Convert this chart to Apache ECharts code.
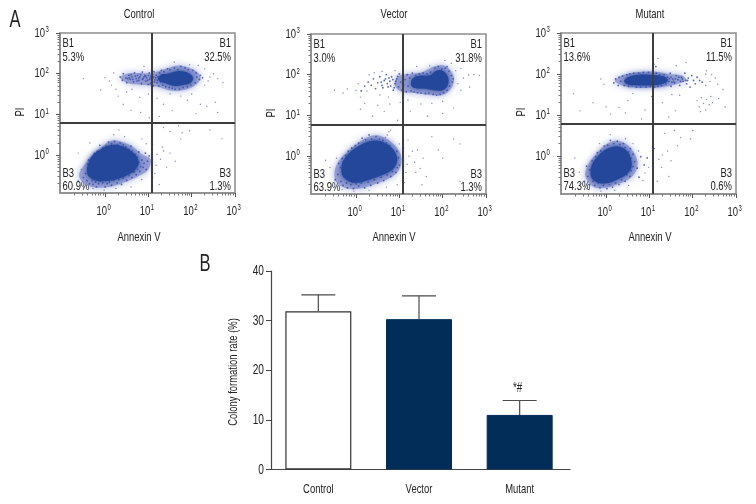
<!DOCTYPE html>
<html><head><meta charset="utf-8">
<style>html,body{margin:0;padding:0;background:#fff}#c{width:756px;height:504px}</style>
<script src="https://cdn.jsdelivr.net/npm/echarts@6/dist/echarts.min.js"></script>
</head><body><div id="c"></div>
<script>
// ---- B: bar chart values
const categories = ['Control','Vector','Mutant'];
const colonyRate = [31.9,30.3,11.0];
const colonyErrorTop = [35.2,35.0,13.9];
const colonyMarks = ['','','*#'];
const colonyTicks = [0,10,20,30,40];
// ---- A: flow cytometry, all positions are log10 of the reading
const logTicks = [0,1,2,3];
const minorLogTicks = [-0.7,-0.52,-0.4,-0.3,-0.22,-0.15,-0.1,-0.05,0.3,0.48,0.6,0.7,0.78,0.85,0.9,0.95,1.3,1.48,1.6,1.7,1.78,1.85,1.9,1.95,2.3,2.48,2.6,2.7,2.78,2.85,2.9,2.95];
const panelNames = ['Control','Vector','Mutant'];
const quadrantTop = ['B1','B1'];
const quadrantBottom = ['B3','B3'];
const controlPct = ['5.3%','32.5%','60.9%','1.3%'];
const vectorPct = ['3.0%','31.8%','63.9%','1.3%'];
const mutantPct = ['13.6%','11.5%','74.3%','0.6%'];
const gateX = [1.08,1.07,1.07];
const gateY = [0.79,0.78,0.79];

// outlines of the saturated part of each cloud
const controlCore = [[[-0.42,-0.38],[-0.38,-0.18],[-0.28,0.0],[-0.1,0.14],[0.1,0.24],[0.32,0.24],[0.55,0.14],[0.72,-0.02],[0.78,-0.2],[0.68,-0.38],[0.5,-0.5],[0.25,-0.6],[0,-0.64],[-0.22,-0.62],[-0.38,-0.52]],
 [[1.22,1.88],[1.3,1.98],[1.45,2.0],[1.6,2.05],[1.78,2.06],[1.95,2.0],[2.03,1.9],[1.98,1.78],[1.8,1.72],[1.6,1.7],[1.42,1.76],[1.28,1.8]]];
const vectorCore = [[[-0.34,-0.32],[-0.3,-0.12],[-0.16,0.08],[0.05,0.24],[0.28,0.36],[0.52,0.38],[0.74,0.28],[0.9,0.1],[0.95,-0.12],[0.85,-0.32],[0.62,-0.46],[0.36,-0.56],[0.1,-0.64],[-0.12,-0.64],[-0.3,-0.5]],
 [[1.28,1.72],[1.3,1.9],[1.5,1.98],[1.7,1.98],[1.85,2.1],[2.0,2.1],[2.12,1.95],[2.12,1.75],[2.0,1.62],[1.8,1.62],[1.55,1.66],[1.4,1.66]]];
const mutantCore = [[[-0.36,-0.4],[-0.32,-0.2],[-0.2,-0.02],[-0.04,0.14],[0.14,0.22],[0.34,0.22],[0.5,0.1],[0.58,-0.1],[0.58,-0.3],[0.44,-0.48],[0.25,-0.58],[0.05,-0.66],[-0.17,-0.66],[-0.32,-0.56]],
 [[0.42,1.82],[0.5,1.92],[0.75,1.98],[1.0,1.98],[1.2,1.96],[1.38,1.92],[1.42,1.82],[1.25,1.74],[1.0,1.72],[0.75,1.72],[0.5,1.74]]];
// outlines of the paler skirt round each cloud
const controlHalo = [[[-0.6,-0.5],[-0.45,-0.2],[-0.25,0.05],[-0.05,0.22],[0.15,0.36],[0.4,0.32],[0.65,0.2],[0.85,0.02],[1.05,-0.1],[1.0,-0.35],[0.8,-0.5],[0.5,-0.65],[0.2,-0.76],[-0.15,-0.8],[-0.45,-0.72]],
 [[0.35,1.9],[0.5,2.0],[0.8,2.02],[1.1,2.02],[1.4,2.12],[1.7,2.2],[2.0,2.12],[2.2,1.95],[2.15,1.78],[1.9,1.62],[1.55,1.58],[1.2,1.68],[0.9,1.72],[0.55,1.76]]];
const vectorHalo = [[[-0.5,-0.4],[-0.4,-0.12],[-0.2,0.1],[0.05,0.32],[0.3,0.48],[0.55,0.5],[0.8,0.36],[1.0,0.12],[1.05,-0.15],[0.95,-0.4],[0.7,-0.58],[0.4,-0.7],[0.05,-0.8],[-0.25,-0.78],[-0.45,-0.65]],
 [[0.9,1.72],[0.95,1.95],[1.2,2.02],[1.5,2.05],[1.8,2.2],[2.05,2.22],[2.25,1.98],[2.22,1.7],[2.0,1.5],[1.7,1.5],[1.35,1.55],[1.05,1.58]]];
const mutantHalo = [[[-0.48,-0.5],[-0.42,-0.22],[-0.25,0.02],[-0.05,0.24],[0.15,0.36],[0.38,0.34],[0.58,0.18],[0.72,-0.1],[0.7,-0.35],[0.55,-0.55],[0.3,-0.68],[0,-0.78],[-0.28,-0.76]],
 [[0.2,1.82],[0.35,1.95],[0.7,2.04],[1.1,2.06],[1.45,2.0],[1.75,1.96],[1.85,1.85],[1.6,1.74],[1.3,1.68],[0.9,1.66],[0.5,1.68]]];

// fringe of each cloud: individually read dots
const controlDense = [[-0.45,-0.45],[-0.5,-0.55],[-0.42,-0.62],[-0.38,-0.3],[-0.33,-0.18],[-0.36,-0.7],[-0.3,-0.62],[-0.28,-0.72],[-0.22,-0.66],[-0.2,-0.78],[-0.15,-0.7],[-0.1,-0.64],[-0.05,-0.68],[0,-0.78],[0.05,-0.7],[0.1,-0.66],[0.15,-0.74],[0.2,-0.62],[0.28,-0.68],[0.32,-0.6],[0.38,-0.72],[0.42,-0.56],[0.5,-0.62],[0.55,-0.5],[0.62,-0.55],[0.66,-0.42],[0.72,-0.48],[0.75,-0.35],[0.8,-0.4],[0.82,-0.28],[0.88,-0.3],[0.78,-0.18],[0.85,-0.12],[0.9,-0.2],[0.75,-0.05],[0.7,0.02],[0.78,0.08],[0.62,0.1],[0.55,0.14],[0.6,0.22],[0.48,0.2],[0.42,0.25],[0.35,0.3],[0.28,0.26],[0.22,0.34],[0.15,0.28],[0.08,0.32],[0.02,0.22],[-0.05,0.18],[-0.12,0.24],[-0.18,0.1],[-0.25,0.04],[-0.3,-0.05],[-0.38,-0.12],[-0.4,-0.22],[0.95,-0.35],[0.98,-0.15],[1.02,-0.02],[0.93,0.05],[0.68,-0.4],
 [0.35,1.92],[0.4,1.84],[0.42,2.0],[0.48,1.9],[0.5,1.78],[0.55,1.96],[0.58,1.86],[0.62,1.92],[0.66,1.8],[0.68,2.02],[0.72,1.88],[0.75,1.96],[0.78,1.84],[0.8,1.92],[0.84,1.76],[0.86,2.04],[0.88,1.88],[0.92,1.96],[0.94,1.82],[0.96,1.9],[1.0,1.74],[1.02,2.02],[1.03,1.86],[1.06,1.94],[1.08,1.8],[1.1,1.9],[1.12,1.7],[1.13,2.05],[1.15,1.85],[1.18,1.96],[1.2,1.78],[1.22,1.92],[1.24,1.7],[1.26,2.02],[1.28,1.8],[1.3,2.08],[1.33,1.72],[1.36,2.05],[1.4,1.68],[1.44,2.12],[1.48,1.66],[1.5,2.1],[1.55,1.64],[1.6,2.14],[1.62,1.62],[1.68,2.1],[1.72,1.62],[1.75,2.18],[1.8,1.66],[1.85,2.14],[1.9,1.68],[1.92,2.1],[1.98,1.72],[2.02,2.08],[2.08,1.78],[2.1,2.02],[2.12,1.92],[2.18,1.86],[2.2,1.96],[2.25,1.9],
 [0.52,1.88],[0.6,1.98],[0.64,1.86],[0.7,1.94],[0.74,1.82],[0.82,1.98],[0.86,1.86],[0.9,1.92],[0.98,1.84],[1.0,1.96],[1.05,1.76],[1.1,1.98],[1.14,1.8],[1.17,1.9],[1.21,1.84],[0.78,1.9],[0.94,1.94],[1.04,1.9],[1.12,1.92],[0.56,1.9]];
const controlSparse = [[-0.75,-0.75],[-0.55,-0.35],[-0.62,-0.62],[-0.5,-0.8],[-0.28,-0.82],[-0.02,-0.86],[0.25,-0.82],[0.6,-0.78],[0.85,-0.6],[1.1,-0.55],[1.18,-0.25],[1.2,0.02],[1.28,-0.1],[1.35,0.1],[1.15,-0.45],[1.25,-0.72],[1.42,-0.3],[1.5,0.05],[1.32,0.2],[1.1,0.25],[0.95,0.28],[0.85,0.4],[0.45,0.45],[0.2,0.5],[0.32,0.62],[-0.35,0.3],[-0.62,0.05],[1.62,-0.15],[1.75,0.4],[1.95,0.6],[1.7,0.72],[1.5,0.58],[1.35,0.68],
 [0.0,1.9],[0.1,1.82],[-0.1,1.6],[-0.5,1.88],[0.15,1.72],[0.2,2.02],[0.25,1.62],[0.3,1.45],[0.5,1.55],[0.62,1.62],[0.8,1.42],[0.6,1.1],[0.42,1.25],[0.82,1.05],[1.0,1.5],[1.2,1.4],[1.35,1.25],[1.5,1.5],[1.75,1.45],[1.9,1.35],[2.0,1.5],[2.2,1.25],[2.35,1.2],[2.55,1.3],[1.55,1.1],[1.25,0.95],[1.02,0.92],[2.3,1.72],[2.38,1.82],[2.42,1.92],[2.5,2.0],[2.6,1.88],[2.72,1.78],[2.3,2.12],[2.15,2.2],[1.95,2.22],[1.6,2.28],[0.9,2.18],[2.1,1.02],[2.6,1.05],[2.42,0.62],[1.78,0.55],[2.7,0.4]];

const vectorDense = [[-0.42,-0.45],[-0.48,-0.58],[-0.35,-0.62],[-0.36,-0.28],[-0.3,-0.14],[-0.3,-0.72],[-0.22,-0.66],[-0.2,-0.78],[-0.12,-0.7],[-0.06,-0.8],[0,-0.68],[0.06,-0.74],[0.12,-0.66],[0.2,-0.78],[0.28,-0.64],[0.34,-0.72],[0.42,-0.58],[0.5,-0.66],[0.58,-0.52],[0.64,-0.6],[0.72,-0.46],[0.8,-0.5],[0.84,-0.38],[0.92,-0.4],[0.95,-0.28],[1.0,-0.22],[0.92,-0.12],[0.98,-0.04],[0.88,0.04],[0.94,0.12],[0.82,0.16],[0.78,0.26],[0.7,0.32],[0.62,0.38],[0.54,0.42],[0.46,0.48],[0.36,0.42],[0.3,0.52],[0.22,0.4],[0.14,0.44],[0.06,0.32],[-0.02,0.26],[-0.1,0.2],[-0.18,0.12],[-0.24,0.02],[-0.32,-0.06],[-0.4,-0.18],[-0.28,-0.5],[0.72,0.06],[0.84,-0.22],
 [0.12,1.6],[0.2,1.72],[0.28,1.82],[0.35,1.74],[0.4,1.9],[0.45,1.66],[0.5,1.8],[0.55,1.95],[0.6,1.74],[0.65,1.86],[0.7,2.0],[0.74,1.7],[0.78,1.84],[0.82,1.95],[0.86,1.62],[0.9,1.78],[0.94,1.9],[0.98,1.7],[1.0,2.02],[1.03,1.82],[1.06,1.62],[1.08,1.94],[1.1,1.75],[1.13,1.88],[1.16,1.58],[1.18,2.0],[1.2,1.72],[1.24,1.92],[1.27,1.6],[1.3,2.04],[1.34,1.58],[1.38,1.98],[1.42,1.56],[1.46,2.02],[1.5,1.55],[1.55,2.04],[1.6,1.54],[1.64,2.02],[1.68,1.55],[1.72,2.06],[1.78,1.52],[1.82,2.16],[1.86,1.5],[1.9,2.2],[1.94,1.52],[1.98,2.14],[2.02,1.56],[2.06,2.16],[2.1,1.62],[2.14,2.08],[2.16,1.72],[2.2,1.98],[2.22,1.82],[2.24,1.9],[2.1,2.2],
 [0.58,1.82],[0.68,1.9],[0.72,1.78],[0.8,1.72],[0.85,1.88],[0.92,1.84],[0.96,1.96],[0.88,1.68],[0.76,1.92],[0.62,1.68]];
const vectorSparse = [[-0.7,-0.1],[-0.6,-0.28],[-0.55,-0.72],[-0.45,-0.05],[-0.32,-0.82],[-0.05,-0.86],[0.3,-0.84],[0.7,-0.76],[0.95,-0.7],[1.12,-0.65],[1.15,-0.4],[1.18,-0.2],[1.22,0],[1.3,0.12],[1.35,-0.15],[1.38,-0.4],[1.48,-0.3],[1.52,-0.7],[1.55,-0.05],[1.62,-0.5],[1.42,0.15],[1.1,0.2],[1.0,0.3],[0.55,0.22],[0.62,0.42],[0.72,0.52],[0.8,0.64],[0.88,0.76],[0.96,0.88],[0.68,0.46],[0.76,0.6],[1.2,0.4],[2.0,-0.05],[2.25,0.42],[2.4,0.3],[1.75,0.48],[1.9,0.15],[2.4,-0.62],
 [-0.5,1.62],[-0.3,1.55],[-0.2,1.65],[0,1.62],[0.05,1.78],[0.1,1.45],[0.25,1.6],[0.3,2.0],[0.42,2.05],[0.55,1.5],[0.6,2.08],[0.75,1.45],[0.9,2.1],[0.5,1.25],[0.2,1.3],[0.1,1.15],[0.65,1.1],[0.78,1.28],[0.38,0.98],[1.02,1.32],[1.25,1.1],[1.5,1.28],[1.2,1.38],[1.75,1.3],[2.0,1.35],[2.25,1.18],[2.42,1.62],[2.35,1.78],[2.48,1.92],[2.6,2.0],[2.72,2.0],[2.85,1.98],[2.3,2.1],[2.42,2.15],[2.2,2.28],[2.05,2.35],[1.7,2.22],[1.4,2.2],[2.62,1.7],[2.0,1.05],[1.65,0.98]];

const mutantDense = [[-0.42,-0.5],[-0.5,-0.62],[-0.38,-0.34],[-0.45,-0.25],[-0.32,-0.12],[-0.38,-0.7],[-0.3,-0.62],[-0.26,-0.72],[-0.18,-0.66],[-0.14,-0.78],[-0.06,-0.72],[0.02,-0.8],[0.08,-0.7],[0.15,-0.76],[0.22,-0.66],[0.3,-0.7],[0.36,-0.58],[0.44,-0.62],[0.48,-0.46],[0.55,-0.5],[0.58,-0.36],[0.62,-0.26],[0.66,-0.14],[0.58,-0.06],[0.62,0.04],[0.52,0.1],[0.56,0.18],[0.44,0.2],[0.4,0.3],[0.32,0.28],[0.26,0.36],[0.18,0.3],[0.1,0.38],[0.04,0.26],[-0.04,0.24],[-0.12,0.12],[-0.2,0.08],[-0.24,-0.02],[-0.3,-0.3],[0.72,-0.3],[0.76,-0.52],[0.88,-0.22],[0.95,-0.05],[0.8,-0.02],
 [0.18,1.78],[0.22,1.88],[0.28,1.72],[0.3,1.92],[0.34,1.82],[0.38,1.95],[0.42,1.72],[0.44,1.84],[0.48,1.98],[0.52,1.7],[0.55,2.0],[0.6,1.72],[0.64,2.02],[0.7,1.68],[0.75,2.02],[0.8,1.68],[0.86,2.04],[0.92,1.68],[0.98,2.04],[1.02,1.7],[1.08,2.08],[1.12,1.68],[1.16,2.02],[1.2,1.7],[1.24,1.98],[1.28,1.72],[1.34,1.98],[1.38,1.76],[1.42,1.92],[1.45,1.82],[1.48,2.02],[1.5,1.7],[1.54,1.88],[1.58,1.78],[1.62,1.96],[1.66,1.86],[1.7,1.72],[1.74,1.92],[1.78,1.82],[1.82,2.02],[1.86,1.76],[1.9,1.9],[1.94,1.68],[1.98,1.96],[2.02,1.84],[2.06,1.76],[2.1,1.92],[2.16,1.84],[2.22,1.8],[1.15,2.18],[1.1,2.24],
 [1.5,1.92],[1.56,1.82],[1.6,1.88],[1.68,1.92],[1.72,1.82],[1.76,1.88],[1.84,1.84],[1.88,1.84],[1.46,1.88],[1.52,1.8]];
const mutantSparse = [[-0.72,-0.05],[-0.62,-0.4],[-0.6,-0.68],[-0.45,-0.8],[-0.12,-0.86],[0.2,-0.84],[0.52,-0.72],[0.85,-0.6],[0.9,-0.42],[0.98,-0.28],[0.75,0.12],[0.62,0.3],[0.45,0.42],[0.1,0.52],[-0.15,0.3],[1.22,-0.08],[1.3,0.02],[1.28,-0.28],[1.42,0.12],[1.5,-0.12],[1.65,0.25],[1.18,-0.62],[1.12,0.18],[1.72,0.45],[1.95,0.42],[1.35,0.55],[1.58,0.62],[2.0,0.62],[1.45,-0.5],
 [-0.05,1.75],[-0.12,1.88],[-0.75,1.52],[-0.6,1.1],[-0.3,1.3],[0,1.2],[0.1,1.02],[0.3,1.18],[0.5,1.35],[0.62,1.52],[0.45,1.05],[0.9,1.12],[1.05,1.45],[1.3,1.3],[1.52,1.5],[1.7,1.48],[1.6,1.1],[1.45,0.95],[0.82,0.9],
 [2.1,1.35],[2.15,1.2],[2.2,1.42],[2.25,1.28],[2.3,1.12],[2.32,1.38],[2.38,1.25],[2.42,1.45],[2.46,1.3],[2.18,1.08],[2.6,1.4],[2.3,1.72],[2.4,1.82],[2.44,1.98],[2.52,1.9],[2.58,1.75],[2.32,2.08],[1.85,2.28],[2.3,2.0],[1.2,2.38],[1.62,2.2],[2.7,1.62],[2.75,1.2]];

const navy = '#032d59', ink = '#222', blue = '#24479c';
const font = '"Liberation Sans",sans-serif';
const narrow = 0.7;

const panels = [
 {name:panelNames[0],left:60,top:33,h:160,core:controlCore,halo:controlHalo,dense:controlDense,sparse:controlSparse,pct:controlPct,gx:gateX[0],gy:gateY[0],cx:139},
 {name:panelNames[1],left:311,top:34,h:160,core:vectorCore,halo:vectorHalo,dense:vectorDense,sparse:vectorSparse,pct:vectorPct,gx:gateX[1],gy:gateY[1],cx:394},
 {name:panelNames[2],left:561,top:33,h:161,core:mutantCore,halo:mutantHalo,dense:mutantDense,sparse:mutantSparse,pct:mutantPct,gx:gateX[2],gy:gateY[2],cx:650}
];
const W = 175, XMIN=-1.04, YMIN=-0.93;
const grid=[],xAxis=[],yAxis=[],series=[],graphic=[];
const txt = (x,y,t,o={},rot) => ({type:'text',x,y,scaleX:o.sx||narrow,rotation:rot||0,silent:true,style:Object.assign({text:t,font:'13.5px '+font,fill:ink,textAlign:'center',textVerticalAlign:'middle'},o.st||{})});
const el = (x,y,t,size,align) => ({type:'text',x,y,scaleX:narrow,silent:true,style:{text:t,font:size+'px '+font,fill:ink,textAlign:align,textVerticalAlign:'middle'}});

panels.forEach((p,i)=>{
 const g=grid.length;
 grid.push({left:p.left,top:p.top,width:W,height:p.h,show:true,borderColor:'#8c8c8c',borderWidth:1.5,backgroundColor:'#fff'});
 const ax={min:XMIN,max:3,type:'value',gridIndex:g,splitLine:{show:false}};
 const ay={min:YMIN,max:3,type:'value',gridIndex:g,splitLine:{show:false}};
 const line={onZero:false,show:true,lineStyle:{color:'#8c8c8c',width:1.5}};
 xAxis.push(Object.assign({},ax,{position:'bottom',axisLine:line,axisTick:{show:true,length:4,lineStyle:{color:'#555'},customValues:logTicks},axisLabel:{show:false}}));
 yAxis.push(Object.assign({},ay,{position:'left',axisLine:line,axisTick:{show:true,length:4,lineStyle:{color:'#555'},customValues:logTicks},axisLabel:{show:false}}));
 const xi=xAxis.length-1, yi=yAxis.length-1;
 xAxis.push(Object.assign({},ax,{position:'bottom',axisLine:{show:false,onZero:false},axisLabel:{show:false},axisTick:{show:true,length:2.5,lineStyle:{color:'#777'},customValues:minorLogTicks}}));
 yAxis.push(Object.assign({},ay,{position:'left',axisLine:{show:false,onZero:false},axisLabel:{show:false},axisTick:{show:true,length:2.5,lineStyle:{color:'#777'},customValues:minorLogTicks}}));
 const base={xAxisIndex:xi,yAxisIndex:yi,silent:true,animation:false};
 const outline=(list,fill,z,op,blur)=>Object.assign({},base,{type:'custom',z,data:list.map((o,k)=>[o[0][0],o[0][1],k]),clip:true,
   renderItem:(par,api)=>({type:'polygon',shape:{points:list[api.value(2)].map(q=>api.coord(q)),smooth:0.35},style:{fill,opacity:op,shadowBlur:blur,shadowColor:fill}})});
 series.push(outline(p.halo,'#7f8aca',1,.7,7));
 series.push(Object.assign({},base,{type:'scatter',data:p.sparse,symbolSize:1.4,z:2,itemStyle:{color:'#5f68b4',opacity:.8}}));
 series.push(Object.assign({},base,{type:'scatter',data:p.dense,symbolSize:1.8,z:3,itemStyle:{color:'#3a4fa6',opacity:.85}}));
 series.push(outline(p.core,blue,4,1,5));
 series.push(Object.assign({},base,{type:'scatter',data:[],z:5,markLine:{silent:true,symbol:'none',animation:false,label:{show:false},lineStyle:{color:'#3d3d3d',width:2,type:'solid'},data:[{xAxis:p.gx},{yAxis:p.gy}]}}));
 // tick labels, positioned by the axes
 series.push(Object.assign({},base,{type:'custom',z:6,clip:false,data:logTicks.map(v=>[v,v]),
   renderItem:(par,api)=>{const v=api.value(0),a=api.coord([v,YMIN]),b=api.coord([XMIN,v]);
     return {type:'group',children:[
       el(a[0]+2,a[1]+18,'10',13.5,'right'),el(a[0]+2.5,a[1]+15,String(v),8.5,'left'),
       el(b[0]-15,b[1],'10',13.5,'right'),el(b[0]-14.5,b[1]-3,String(v),8.5,'left')]};}}));
 graphic.push(txt(p.cx,14,p.name));
 graphic.push(txt(p.cx,237,'Annexin V'));
 graphic.push(txt(p.left-40,p.top+79,'PI',{},Math.PI/2));
 const L=p.left+2.5,R=p.left+W-4,T=p.top,la={st:{textAlign:'left'}},ra={st:{textAlign:'right'}};
 graphic.push(txt(L,T+10,quadrantTop[0],la),txt(L,T+24,p.pct[0],la),txt(R,T+10,quadrantTop[1],ra),txt(R,T+24,p.pct[1],ra));
 graphic.push(txt(L,T+140,quadrantBottom[0],la),txt(L,T+153,p.pct[2],la),txt(R,T+140,quadrantBottom[1],ra),txt(R,T+153,p.pct[3],ra));
});
graphic.push(txt(15,21,'A',{st:{font:'23px '+font,fill:'#222'},sx:.72}));
graphic.push(txt(205,265,'B',{st:{font:'23px '+font,fill:'#222'},sx:.72}));

// bar chart
const bg=grid.length;
grid.push({left:268,top:271,width:302,height:198.5});
xAxis.push({type:'category',gridIndex:bg,data:categories,axisTick:{show:false},axisLine:{lineStyle:{color:'#444',width:1.2}},axisLabel:{show:false}});
yAxis.push({type:'value',gridIndex:bg,min:0,max:40,interval:10,offset:-3,splitLine:{show:false},axisTick:{show:true,length:5,lineStyle:{color:'#444',width:1}},axisLine:{show:true,lineStyle:{color:'#444',width:1.2}},axisLabel:{show:false}});
const bx=xAxis.length-1,by=yAxis.length-1;
series.push({type:'bar',xAxisIndex:bx,yAxisIndex:by,barWidth:66,animation:false,silent:true,z:3,
 data:colonyRate.map((v,i)=>({value:v,itemStyle:i==0?{color:'#fff',borderColor:'#333',borderWidth:1.2}:{color:navy,borderColor:navy,borderWidth:1}}))});
series.push({type:'custom',xAxisIndex:bx,yAxisIndex:by,animation:false,silent:true,z:2,clip:false,
 data:categories.map((c,i)=>[i,colonyRate[i],colonyErrorTop[i]]),
 renderItem:(params,api)=>{
  const b=api.coord([api.value(0),api.value(1)]), t=api.coord([api.value(0),api.value(2)]);
  const st={stroke:'#4a4a4a',lineWidth:1.2,fill:'none'};
  const ch=[{type:'line',shape:{x1:b[0],y1:b[1],x2:t[0],y2:t[1]},style:st},
            {type:'line',shape:{x1:t[0]-17,y1:t[1],x2:t[0]+17,y2:t[1]},style:st}];
  const m=colonyMarks[params.dataIndex];
  if(m) ch.push(el(t[0]-2,t[1]-12,m,14,'center'));
  const base=api.coord([api.value(0),0]);
  ch.push(el(base[0],base[1]+19.5,categories[params.dataIndex],13.5,'center'));
  return {type:'group',children:ch};
 }});
series.push({type:'custom',xAxisIndex:bx,yAxisIndex:by,animation:false,silent:true,clip:false,z:6,
 data:colonyTicks.map(v=>[0,v]),
 renderItem:(par,api)=>{const a=api.coord([0,api.value(1)]);
   return el(264,a[1],String(api.value(1)),14.5,'right');}});
graphic.push(txt(233,372,'Colony formation rate (%)',{},Math.PI/2));

const chart=echarts.init(document.getElementById('c'),null,{renderer:'canvas'});
chart.setOption({animation:false,backgroundColor:'#fff',grid,xAxis,yAxis,series,graphic});
</script></body></html>
